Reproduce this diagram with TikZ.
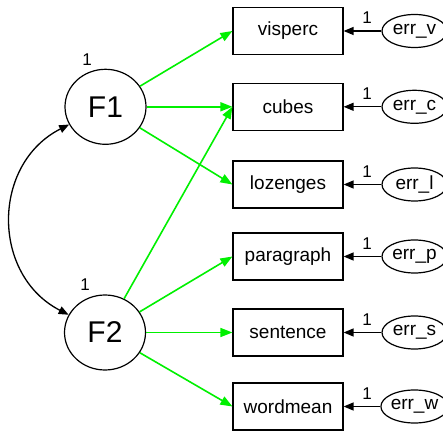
\documentclass[tikz,border=0pt]{standalone}
\usepackage{fontspec}
\setmainfont{Liberation Sans}
\usetikzlibrary{arrows.meta,shapes.geometric}
\definecolor{loadgreen}{RGB}{0,240,0}
\begin{document}
\begin{tikzpicture}[x=1pt,y=1pt,
 lat/.style={ellipse,draw,line width=1.2pt,minimum width=81pt,minimum height=75pt,inner sep=0pt,font=\fontsize{30}{32}\selectfont},
 obs/.style={rectangle,draw,line width=1.2pt,minimum width=110pt,minimum height=47pt,inner sep=0pt,font=\fontsize{19}{21}\selectfont},
 errn/.style={ellipse,draw,line width=1.2pt,minimum width=65pt,minimum height=33pt,inner sep=0pt,font=\fontsize{19}{21}\selectfont},
 load/.style={draw=loadgreen,line width=1.6pt,-{Triangle[length=12pt,width=9pt]}},
 errarr/.style={draw=black,line width=1.3pt,-{Triangle[length=10pt,width=8pt]}},
 cov/.style={draw=black,line width=1.3pt,{Triangle[length=10pt,width=8pt]}-{Triangle[length=10pt,width=8pt]}},
 lbl/.style={font=\fontsize{17}{19}\selectfont,inner sep=0pt}
]
\useasboundingbox (0,0) rectangle (443,430);
\node[lat] (F1) at (105.5,323.2) {F1};
\node[lat] (F2) at (105,97.5) {F2};
\node[obs] (vis) at (288,399) {visperc};
\node[obs] (cub) at (288,323.2) {cubes};
\node[obs] (loz) at (288,245.5) {lozenges};
\node[obs] (par) at (288,173.5) {paragraph};
\node[obs] (sen) at (288,97.5) {sentence};
\node[obs] (wor) at (288,23.5) {wordmean};
\node[errn] (ev) at (414.5,399) {err\_v};
\node[errn] (ec) at (414.5,323.2) {err\_c};
\node[errn] (el) at (414.5,245.5) {err\_l};
\node[errn] (ep) at (414.5,173.5) {err\_p};
\node[errn] (es) at (414.5,97.5) {err\_s};
\node[errn] (ew) at (414.5,23.5) {err\_w};
\node[lbl] (l1) at (87,370) {1};
\node[lbl] (l2) at (85,145) {1};
\node[lbl] (lv) at (367,412) {1};
\node[lbl] (lc) at (367,336) {1};
\node[lbl] (ll) at (367,258.5) {1};
\node[lbl] (lp) at (367,186.5) {1};
\node[lbl] (ls) at (367,110.5) {1};
\node[lbl] (lw) at (367,36.5) {1};
\draw[load] (F1) -- (vis.west);
\draw[load] (F1) -- (cub.west);
\draw[load] (F1) -- (loz.west);
\draw[load] (F2) -- (cub.west);
\draw[load] (F2) -- (par.west);
\draw[load] (F2) -- (sen.west);
\draw[load] (F2) -- (wor.west);
\draw[errarr] (ev) -- (vis);
\draw[errarr] (ec) -- (cub);
\draw[errarr] (el) -- (loz);
\draw[errarr] (ep) -- (par);
\draw[errarr] (es) -- (sen);
\draw[errarr] (ew) -- (wor);
\draw[cov] (F1.206) to[bend right=63,looseness=1.17] (F2.154);
\end{tikzpicture}
\end{document}
